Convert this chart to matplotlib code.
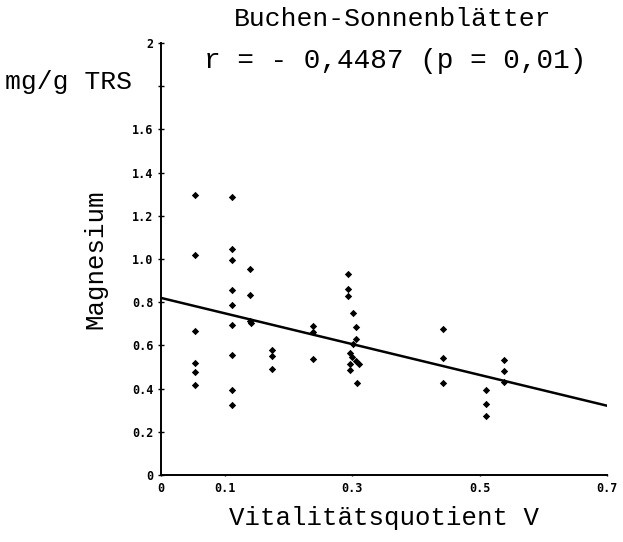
import numpy as np
import matplotlib
matplotlib.use("Agg")
import matplotlib.pyplot as plt

# Magnesium (mg/g TRS) vs. Vitalitaetsquotient V
vital_q = [0.053, 0.053, 0.053, 0.053, 0.053, 0.053,
           0.111, 0.111, 0.111, 0.111, 0.111, 0.111, 0.111, 0.111, 0.111,
           0.140, 0.140, 0.140, 0.141,
           0.175, 0.175, 0.175,
           0.239, 0.239, 0.238,
           0.293, 0.293, 0.293, 0.301, 0.306, 0.306, 0.302, 0.297, 0.300,
           0.306, 0.310, 0.296, 0.297, 0.308,
           0.442, 0.442, 0.442,
           0.510, 0.510, 0.510,
           0.538, 0.538, 0.538]
magnesium = [1.297, 1.018, 0.667, 0.517, 0.475, 0.417,
             1.285, 1.046, 0.995, 0.856, 0.785, 0.696, 0.556, 0.395, 0.325,
             0.955, 0.835, 0.715, 0.705,
             0.580, 0.550, 0.491,
             0.688, 0.660, 0.539,
             0.929, 0.859, 0.830, 0.748, 0.687, 0.628, 0.608, 0.567, 0.546,
             0.527, 0.516, 0.516, 0.488, 0.426,
             0.674, 0.543, 0.426,
             0.392, 0.331, 0.273,
             0.532, 0.481, 0.431]

# regression line as printed
fit_intercept = 0.82
fit_slope = -0.713

x_ticks = [0, 0.1, 0.3, 0.5, 0.7]
x_labels = ["0", "0.1", "0.3", "0.5", "0.7"]
y_ticks = [0, 0.2, 0.4, 0.6, 0.8, 1.0, 1.2, 1.4, 1.6, 1.8, 2.0]
y_labels = ["0", "0.2", "0.4", "0.6", "0.8", "1.0", "1.2", "1.4", "1.6", "", "2"]

mono = "Liberation Mono"
tickfont = "DejaVu Sans Mono"

fig = plt.figure(figsize=(6.23, 5.42), dpi=100)
ax = fig.add_axes([0.2584, 0.1236, 0.7159, 0.797])

ax.scatter(vital_q, magnesium, marker="D", s=14, color="black", linewidths=0)
lx = np.array([0, 0.7])
ax.plot(lx, fit_intercept + fit_slope * lx, color="black", lw=1.8)

ax.set_xlim(0, 0.7)
ax.set_ylim(0, 2)
for s in ["top", "right"]:
    ax.spines[s].set_visible(False)
for s in ["left", "bottom"]:
    ax.spines[s].set_linewidth(1.4)

ax.set_xticks(x_ticks)
ax.set_xticklabels(x_labels, fontfamily=tickfont, fontsize=8.5, fontweight="bold")
ax.set_yticks(y_ticks)
ax.set_yticklabels(y_labels, fontfamily=tickfont, fontsize=8.5, fontweight="bold")
ax.tick_params(axis="y", direction="inout", length=5, width=1, pad=3)
ax.tick_params(axis="x", direction="inout", length=2, width=1, pad=4)

ax.set_xlabel("Vitalitätsquotient V", fontfamily=mono, fontsize=18.5, labelpad=8)
ax.set_ylabel("Magnesium", fontfamily=mono, fontsize=18.5, labelpad=18)

fig.text(0.63, 0.965, "Buchen-Sonnenblätter", fontfamily=mono, fontsize=19,
         ha="center", va="center")
fig.text(0.635, 0.888, "r = - 0,4487 (p = 0,01)", fontfamily=mono, fontsize=20,
         ha="center", va="center")
fig.text(0.008, 0.835, "mg/g TRS", fontfamily=mono, fontsize=19,
         ha="left", va="baseline")

fig.savefig("out.png", dpi=100)
